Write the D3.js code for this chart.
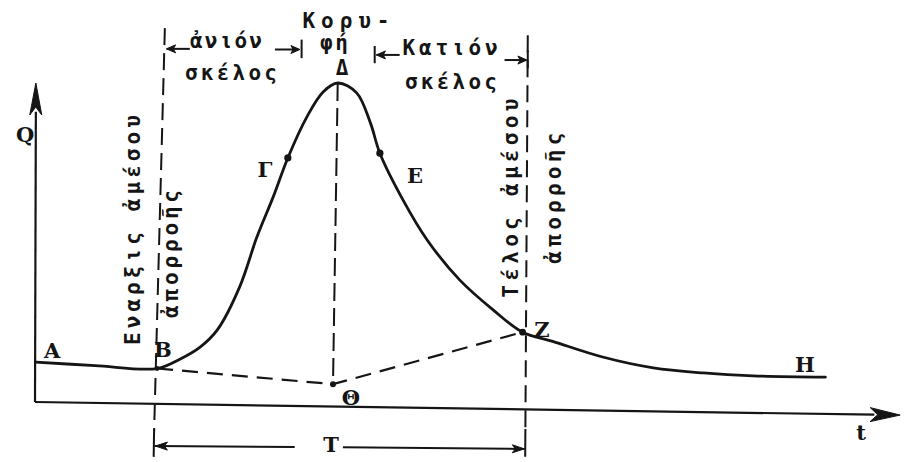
<!DOCTYPE html>
<html>
<head>
<meta charset="utf-8">
<script src="https://cdn.jsdelivr.net/npm/d3@7"></script>
<style>
  html, body { margin: 0; padding: 0; background: #fff; }
  svg { display: block; }
</style>
</head>
<body>
<script>
// Storm hydrograph: discharge Q against time t, with direct-runoff separation.

// Hydrograph A → B → Γ → Δ → Ε → Z → H (time, discharge)
const hydroT = [0.1, 7.0, 14.2, 16.9, 19.2, 21.2, 23.8, 25.8, 27.7, 29.4, 31.6, 33.5, 35.2,
                37.4, 39.0, 40.1, 42.8, 45.6, 49.4, 53.3, 56.7, 60.2, 66.0, 71.9, 77.7, 83.5, 91.9];
const hydroQ = [12.5, 11.4, 10.5, 13.5, 17.2, 22.6, 36.1, 51.7, 64.3, 76.5, 89.3, 97.2, 100,
                96.9, 87.5, 78.0, 63.3, 50.8, 38.2, 28.8, 21.9, 19.0, 14.1, 10.7, 9.1, 8.2, 7.8];

// Baseflow separation line B → Θ → Z
const sepT = [14.2, 34.65, 56.7];
const sepQ = [10.5, 5.6, 21.9];

// Marked points on the limbs (Γ on the rising limb, Ε on the falling limb)
const markNames = ["Γ", "Ε"];
const markT = [29.4, 40.1];
const markQ = [76.5, 78.0];

// Peak Δ and the point Θ beneath it
const peakT = 35.2, peakQ = 100;
const thetaT = 34.65, thetaQ = 5.6;

// Start and end of direct runoff (time at top and bottom of each marker line)
const startT = [15.1, 13.8];
const endT = [57.3, 57.0];

// Axis extents
const axisQTop = 100;
const axisTEnd = [100.6, -4.1];

// ---------------------------------------------------------------------------
const W = 904, H = 462;
const x = d3.scaleLinear().domain([0, 100]).range([35, 895]);
const y = d3.scaleLinear().domain([0, 100]).range([402, 83]);

const ink = "#151515";
const svg = d3.select("body").append("svg")
  .attr("width", W).attr("height", H)
  .attr("viewBox", `0 0 ${W} ${H}`);

svg.append("rect").attr("width", W).attr("height", H).attr("fill", "#fff");

const P = (t, q) => [x(t), y(q)];

// filled arrowhead with its tip at `tip`, pointing away from `from`
function arrowHead(g, tip, from, len, half) {
  const dx = tip[0] - from[0], dy = tip[1] - from[1];
  const d = Math.hypot(dx, dy) || 1;
  const ux = dx / d, uy = dy / d, nx = -uy, ny = ux;
  const bx = tip[0] - ux * len, by = tip[1] - uy * len;
  g.append("path")
    .attr("d", `M${tip[0]},${tip[1]}L${bx + nx * half},${by + ny * half}L${bx + ux * len * 0.25},${by + uy * len * 0.25}L${bx - nx * half},${by - ny * half}Z`)
    .attr("fill", ink).attr("stroke", ink).attr("stroke-width", 1);
}

const seg = (g, a, b, w, dash) => g.append("line")
  .attr("x1", a[0]).attr("y1", a[1]).attr("x2", b[0]).attr("y2", b[1])
  .attr("stroke", ink).attr("stroke-width", w)
  .attr("stroke-dasharray", dash || null);

const guides = svg.append("g");

// start / end of direct runoff: dashed markers plus solid feet for the T span
seg(guides, P(startT[0], 117.2), P(startT[1] + 0.05, -9), 2, "17,8");
seg(guides, P(endT[0], 115), P(endT[1] + 0.02, -9), 2, "17,8");
seg(guides, P(startT[1] + 0.05, -8.5), P(startT[1], -17.2), 2);
seg(guides, P(endT[1] + 0.02, -8.5), P(endT[1], -17.2), 2);

// vertical from the peak down to Θ
seg(guides, P(peakT, peakQ), P(thetaT, thetaQ), 2, "18,7");

// baseflow separation
guides.append("path")
  .attr("d", d3.line().x((d, i) => x(sepT[i])).y((d, i) => y(sepQ[i]))(sepT))
  .attr("fill", "none").attr("stroke", ink).attr("stroke-width", 2.2)
  .attr("stroke-dasharray", "16,9");

// axes
const axes = svg.append("g");
seg(axes, P(0, 0), P(0.1, axisQTop - 9), 2.2);
arrowHead(axes, P(0.1, axisQTop), P(0, 0), 32, 6);
seg(axes, P(0, 0), P(axisTEnd[0] - 3, axisTEnd[1] + 0.12), 2.2);
arrowHead(axes, P(axisTEnd[0], axisTEnd[1]), P(0, 0), 30, 7);

// hydrograph
svg.append("path")
  .attr("d", d3.line()
    .x((d, i) => x(hydroT[i])).y((d, i) => y(hydroQ[i]))
    .curve(d3.curveCatmullRom.alpha(0.5))(hydroT))
  .attr("fill", "none").attr("stroke", ink).attr("stroke-width", 2.8)
  .attr("stroke-linejoin", "round").attr("stroke-linecap", "round");

// dots
const dots = svg.append("g").attr("fill", ink);
markT.forEach((t, i) => dots.append("circle").attr("cx", x(t)).attr("cy", y(markQ[i])).attr("r", 3.6));
dots.append("circle").attr("cx", x(thetaT)).attr("cy", y(thetaQ)).attr("r", 3);
dots.append("circle").attr("cx", x(sepT[2])).attr("cy", y(sepQ[2])).attr("r", 3.4);
dots.append("circle").attr("cx", x(sepT[0])).attr("cy", y(sepQ[0])).attr("r", 2.4);

// span arrows: rising limb, falling limb, duration T
const spans = svg.append("g");
// rising limb (ἀνιόν σκέλος)
seg(spans, P(15.3, 110.7), P(18.0, 110.7), 2);
arrowHead(spans, P(15.3, 110.7), P(18.0, 110.7), 9, 4);
seg(spans, P(27.9, 110.5), P(30.6, 110.5), 2);
arrowHead(spans, P(30.8, 110.5), P(27.9, 110.5), 9, 4);
seg(spans, P(31.0, 113.6), P(31.0, 107.8), 2);
// falling limb (Κατιόν σκέλος)
seg(spans, P(39.5, 111.6), P(39.5, 106.2), 2);
seg(spans, P(39.7, 108.8), P(42.4, 108.8), 2);
arrowHead(spans, P(39.7, 108.8), P(42.4, 108.8), 9, 4);
seg(spans, P(54.6, 107.2), P(57.1, 107.2), 2);
arrowHead(spans, P(57.2, 107.2), P(54.6, 107.2), 9, 4);
seg(spans, P(57.3, 110.2), P(57.3, 104.6), 2);
// duration T
seg(spans, P(13.9, -13.8), P(30.2, -14.1), 2);
arrowHead(spans, P(14.0, -13.8), P(30.2, -14.1), 12, 4);
seg(spans, P(35.8, -14.2), P(56.9, -14.7), 2);
arrowHead(spans, P(56.9, -14.7), P(35.8, -14.2), 12, 4);

// point letters
const pointLabels = [
  { text: "A", t: 1.98, q: 13.8 },
  { text: "B", t: 14.88, q: 14.1 },
  { text: "Γ", t: 26.74, q: 70.5 },
  { text: "Ε", t: 44.19, q: 68.7 },
  { text: "Z", t: 58.95, q: 20.4 },
  { text: "H", t: 89.53, q: 9.4 },
  { text: "Θ", t: 36.74, q: -0.9 },
  { text: "T", t: 34.42, q: -15.7 },
  { text: "t", t: 96.05, q: -11.9 },
  { text: "Q", t: -1.16, q: 81.5 }
];
svg.append("g")
  .attr("font-family", "'DejaVu Serif', serif").attr("font-weight", "bold")
  .attr("font-size", 21).attr("fill", ink).attr("text-anchor", "middle")
  .selectAll("text").data(pointLabels).join("text")
  .attr("x", d => x(d.t)).attr("y", d => y(d.q)).text(d => d.text);

// typed annotations
const notes = [
  { text: "ἀνιόν", t: 22.21, q: 111.0, len: 72 },
  { text: "σκέλος", t: 22.79, q: 100.9, len: 92 },
  { text: "Κορυ-", t: 36.16, q: 117.2, len: 87 },
  { text: "φή", t: 34.77, q: 110.3, len: 28 },
  { text: "Δ", t: 35.7, q: 102.5, len: 0 },
  { text: "Κατιόν", t: 48.26, q: 108.8, len: 95 },
  { text: "σκέλος", t: 48.37, q: 98.1, len: 92 }
];
const vnotes = [
  { text: "Εναρξις ἀμέσου", t: 12.21, q: 53.9, len: 230 },
  { text: "ἀπορροῆς", t: 16.63, q: 46.4, len: 128 },
  { text: "Τέλος ἀμέσου", t: 56.16, q: 63.9, len: 199 },
  { text: "ἀπορροῆς", t: 61.16, q: 63.9, len: 131 }
];
const typed = svg.append("g")
  .attr("font-family", "'DejaVu Sans Mono', monospace")
  .attr("font-weight", "bold")
  .attr("font-size", 21).attr("fill", ink).attr("text-anchor", "middle");

typed.selectAll("text.h").data(notes).join("text").attr("class", "h")
  .attr("x", d => x(d.t)).attr("y", d => y(d.q))
  .attr("textLength", d => d.len || null)
  .attr("lengthAdjust", "spacing")
  .text(d => d.text);

typed.selectAll("text.v").data(vnotes).join("text").attr("class", "v")
  .attr("transform", d => `translate(${x(d.t)},${y(d.q)}) rotate(-90)`)
  .attr("textLength", d => d.len)
  .attr("lengthAdjust", "spacing")
  .text(d => d.text);
</script>
</body>
</html>
